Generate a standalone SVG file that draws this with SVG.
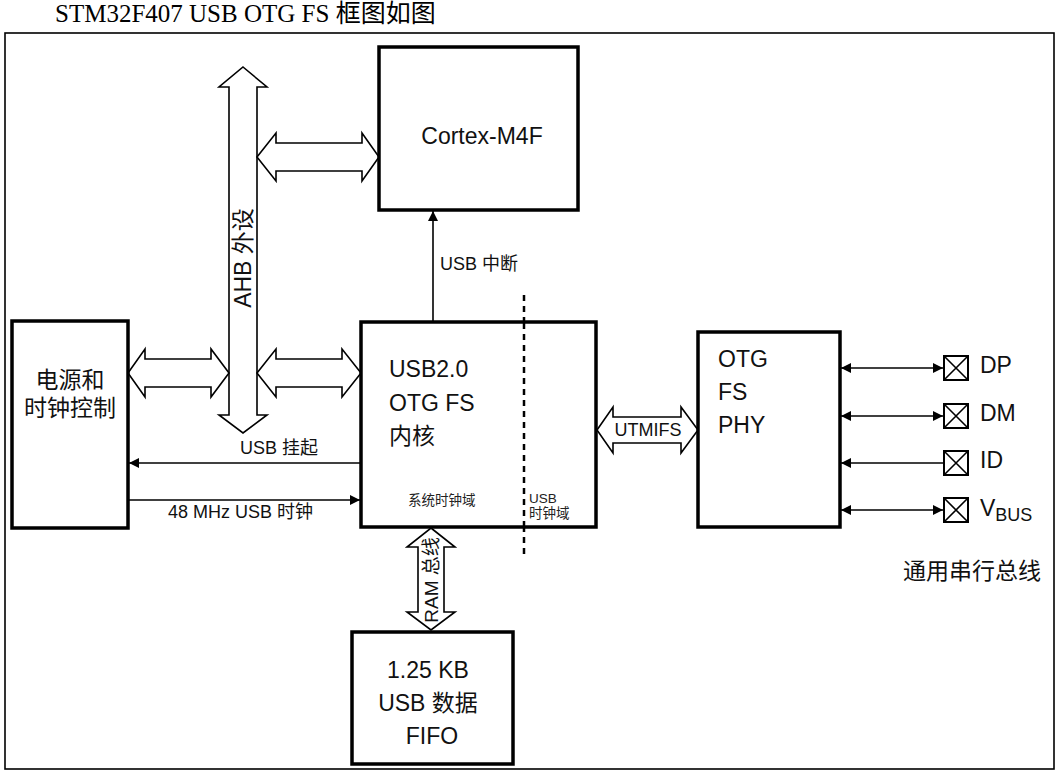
<svg xmlns="http://www.w3.org/2000/svg" width="1062" height="772" viewBox="0 0 1062 772">
<style>
.box{fill:#fff;stroke:#000;stroke-width:3.5}
.frame{fill:none;stroke:#000;stroke-width:1.6}
.dbl{fill:#fff;stroke:#000;stroke-width:1.6;stroke-linejoin:miter}
.ln{stroke:#000;stroke-width:1.6;fill:none}
.t{font-family:"Liberation Sans","Noto Sans CJK SC",sans-serif;font-size:23px;fill:#111}
.m{font-family:"Liberation Sans","Noto Sans CJK SC",sans-serif;font-size:18px;fill:#111}
.s{font-family:"Liberation Sans","Noto Sans CJK SC",sans-serif;font-size:13.5px;fill:#222}
.pin{fill:#fff;stroke:#000;stroke-width:2}
</style>
<defs>
<marker id="ah" viewBox="0 0 10 10" refX="10" refY="5" markerWidth="10" markerHeight="10" markerUnits="userSpaceOnUse" orient="auto-start-reverse">
<path d="M0,0 L10,5 L0,10 z" fill="#000"/>
</marker>
</defs>
<text x="55" y="22" style="font-family:'Liberation Serif','Noto Sans CJK SC',serif;font-size:25px;fill:#000">STM32F407 USB OTG FS 框图如图</text>
<rect class="frame" x="5" y="33" width="1049" height="736"/>

<g id="connectors">
  <polygon id="ahb-bus" class="dbl" points="243,67 267,87 257,87 257,415 267,415 243,433 219,415 229,415 229,87 219,87"/>
  <text class="t" transform="translate(251,258) rotate(-90)" text-anchor="middle">AHB 外设</text>
  <polygon class="dbl" points="257,157 276,133 276,143 362,143 362,133 379,157 362,181 362,171 276,171 276,181"/>
  <polygon class="dbl" points="128,373 145,349 145,359 211,359 211,349 229,373 211,397 211,387 145,387 145,397"/>
  <polygon class="dbl" points="257,373 276,349 276,359 342,359 342,349 361,373 342,397 342,387 276,387 276,397"/>
  <polygon class="dbl" points="597,430 613,407 613,417 681,417 681,407 698,430 681,453 681,443 613,443 613,453"/>
  <text class="m" x="648" y="436" text-anchor="middle">UTMIFS</text>
  <polygon class="dbl" points="431,528 455,547 444,547 444,612 455,612 431,630 407,612 418,612 418,547 407,547"/>
  <text class="m" transform="translate(438,580) rotate(-90)" text-anchor="middle" style="font-size:19px">RAM 总线</text>

  <line class="ln" x1="433" y1="321" x2="433" y2="211" marker-end="url(#ah)"/>
  <text class="m" x="440" y="270">USB 中断</text>
  <line class="ln" x1="361" y1="463" x2="129" y2="463" marker-end="url(#ah)"/>
  <text class="m" x="240" y="454">USB 挂起</text>
  <line class="ln" x1="129" y1="500" x2="360" y2="500" marker-end="url(#ah)"/>
  <text class="m" x="168" y="518">48 MHz USB 时钟</text>

  <line x1="524" y1="295" x2="524" y2="556" stroke="#000" stroke-width="2.5" stroke-dasharray="6,5"/>

  <line class="ln" x1="841" y1="368" x2="943" y2="368" marker-start="url(#ah)" marker-end="url(#ah)"/>
  <line class="ln" x1="841" y1="416" x2="943" y2="416" marker-start="url(#ah)" marker-end="url(#ah)"/>
  <line class="ln" x1="841" y1="463" x2="943" y2="463" marker-start="url(#ah)"/>
  <line class="ln" x1="841" y1="510" x2="943" y2="510" marker-start="url(#ah)" marker-end="url(#ah)"/>
</g>

<g id="cortex">
  <rect class="box" x="379" y="47" width="199" height="163"/>
  <text class="t" x="482" y="144" text-anchor="middle">Cortex-M4F</text>
</g>
<g id="power">
  <rect class="box" x="12" y="321" width="116" height="207"/>
  <text class="t" x="70" y="388" text-anchor="middle">电源和</text>
  <text class="t" x="70" y="416" text-anchor="middle">时钟控制</text>
</g>
<g id="usbcore">
  <rect class="box" x="361" y="322" width="235" height="205"/>
  <line x1="524" y1="323" x2="524" y2="526" stroke="#000" stroke-width="2.5" stroke-dasharray="6,5"/>
  <text class="t" x="389" y="377">USB2.0</text>
  <text class="t" x="389" y="411">OTG FS</text>
  <text class="t" x="389" y="444">内核</text>
  <text class="s" x="408" y="505">系统时钟域</text>
  <text class="s" x="529" y="503">USB</text>
  <text class="s" x="529" y="518">时钟域</text>
</g>
<g id="phy">
  <rect class="box" x="698" y="332" width="142" height="195"/>
  <text class="t" x="718" y="367">OTG</text>
  <text class="t" x="718" y="400">FS</text>
  <text class="t" x="718" y="433">PHY</text>
</g>
<g id="fifo">
  <rect class="box" x="352" y="632" width="161" height="132"/>
  <text class="t" x="428" y="678" text-anchor="middle">1.25 KB</text>
  <text class="t" x="428" y="711" text-anchor="middle">USB 数据</text>
  <text class="t" x="432" y="744" text-anchor="middle">FIFO</text>
</g>
<g id="pins">
  <g id="pin-dp"><rect class="pin" x="944" y="356" width="24" height="24"/><path class="ln" d="M944,356 L968,380 M968,356 L944,380"/><text class="t" x="980" y="373">DP</text></g>
  <g id="pin-dm"><rect class="pin" x="944" y="404" width="24" height="24"/><path class="ln" d="M944,404 L968,428 M968,404 L944,428"/><text class="t" x="980" y="421">DM</text></g>
  <g id="pin-id"><rect class="pin" x="944" y="451" width="24" height="24"/><path class="ln" d="M944,451 L968,475 M968,451 L944,475"/><text class="t" x="980" y="468">ID</text></g>
  <g id="pin-vbus"><rect class="pin" x="944" y="498" width="24" height="24"/><path class="ln" d="M944,498 L968,522 M968,498 L944,522"/><text class="t" x="980" y="516">V<tspan dy="5" style="font-size:18px">BUS</tspan></text></g>
  <text class="t" x="903" y="579">通用串行总线</text>
</g>
</svg>
